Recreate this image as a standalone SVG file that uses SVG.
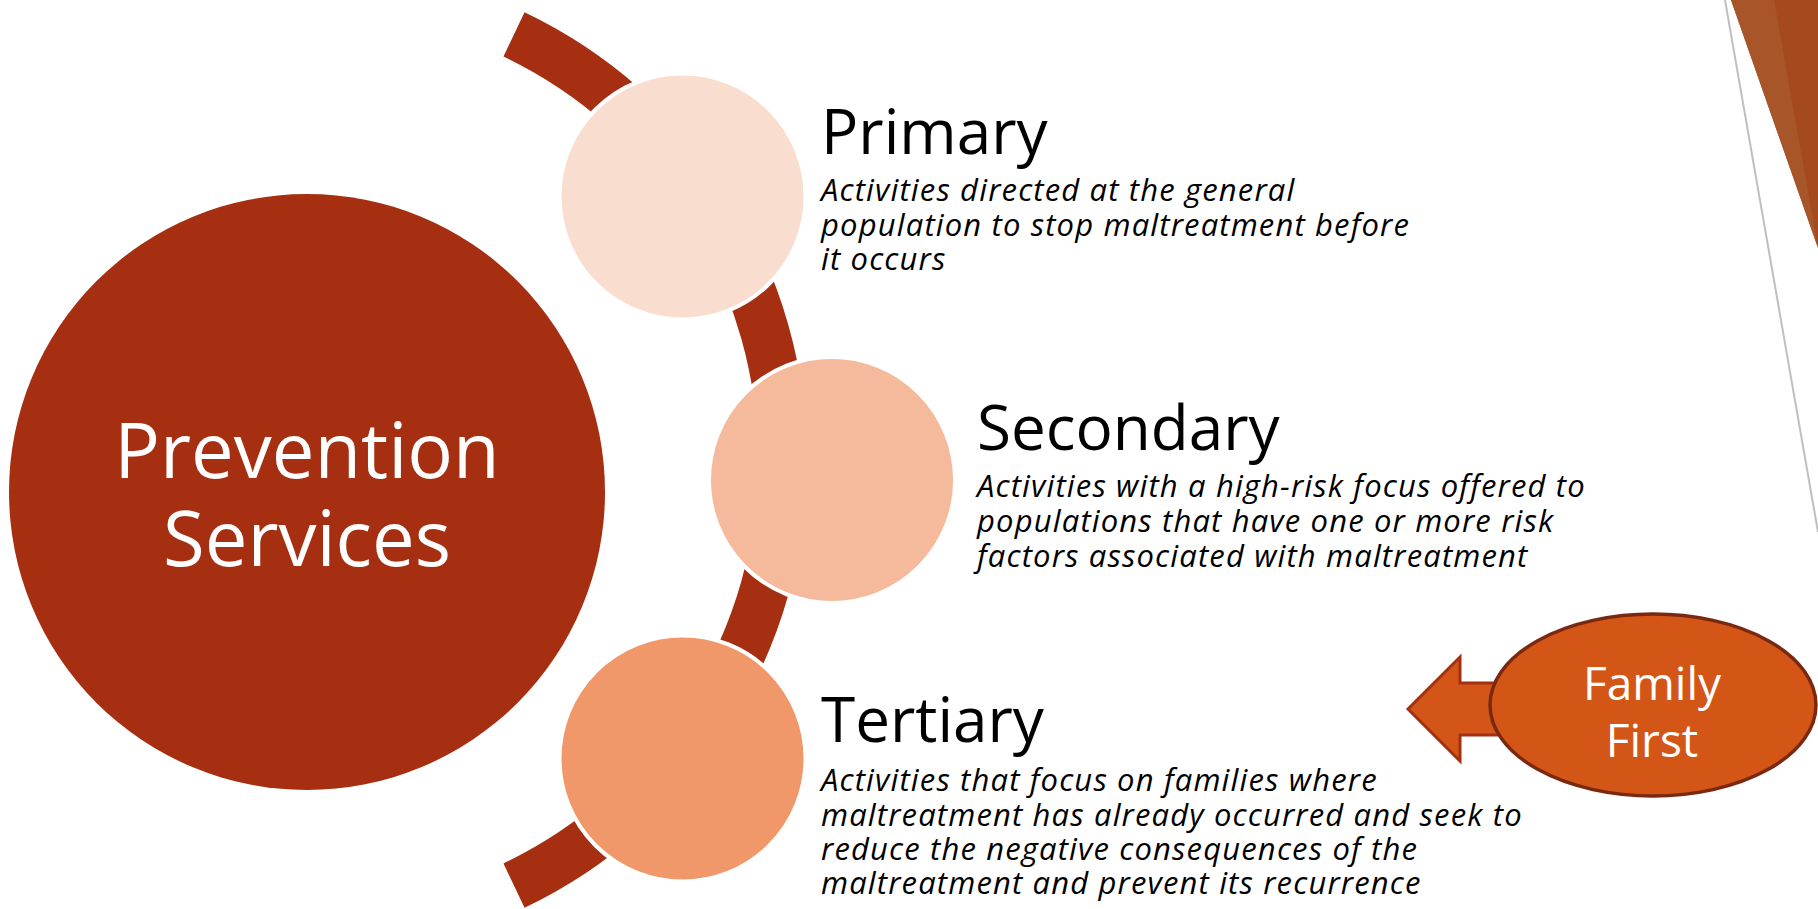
<svg xmlns="http://www.w3.org/2000/svg" width="1818" height="909" viewBox="0 0 1818 909">
<style>
.head{font-family:"Open Sans","Liberation Sans",sans-serif;font-size:62px;fill:#000}
.body{font-family:"Open Sans","Liberation Sans",sans-serif;font-style:italic;font-size:31px;letter-spacing:1.15px;fill:#000}
.ring{stroke:#fff;stroke-width:4}
.white{font-family:"Open Sans","Liberation Sans",sans-serif;fill:#fff;text-anchor:middle}
</style>
<rect width="1818" height="909" fill="#fff"/>
<g id="decoration">
<polygon points="1731,0 1818,0 1818,248" fill="#A44A1E"/>
<polygon points="1731,0 1774,0 1818,248" fill="#A8552A"/>
<line x1="1725" y1="0" x2="1818" y2="532" stroke="#BFBFBF" stroke-width="2"/>
</g>
<g id="connectors">
<path d="M514,34.4 A471.5,471.5 0 0 1 514,885.6" fill="none" stroke="#A52F10" stroke-width="49"/>
</g>
<g id="prevention">
<circle cx="307" cy="492" r="298" fill="#A52F10"/>
<text class="white" x="307" y="478" font-size="76">Prevention</text>
<text class="white" x="307" y="566" font-size="76">Services</text>
</g>
<g id="primary">
<circle class="ring" cx="682.5" cy="196.5" r="123" fill="#F9DDCF"/>
<text class="head" x="821" y="154">Primary</text>
<text class="body" x="821" y="201">Activities directed at the general</text>
<text class="body" x="821" y="236">population to stop maltreatment before</text>
<text class="body" x="821" y="270">it occurs</text>
</g>
<g id="secondary">
<circle class="ring" cx="832" cy="480" r="123" fill="#F5BA9C"/>
<text class="head" x="977" y="450">Secondary</text>
<text class="body" x="977" y="497">Activities with a high-risk focus offered to</text>
<text class="body" x="977" y="532">populations that have one or more risk</text>
<text class="body" x="977" y="567">factors associated with maltreatment</text>
</g>
<g id="tertiary">
<circle class="ring" cx="682.5" cy="758.5" r="123" fill="#F0986A"/>
<text class="head" x="821" y="742">Tertiary</text>
<text class="body" x="821" y="791">Activities that focus on families where</text>
<text class="body" x="821" y="826">maltreatment has already occurred and seek to</text>
<text class="body" x="821" y="860">reduce the negative consequences of the</text>
<text class="body" x="821" y="894">maltreatment and prevent its recurrence</text>
</g>
<g id="family-first">
<path d="M1408,709 L1460,657 L1460,683 L1560,683 L1560,735 L1460,735 L1460,761 Z" fill="#D35618" stroke="#A3300F" stroke-width="3" stroke-linejoin="miter"/>
<ellipse cx="1653" cy="705" rx="163" ry="91" fill="#D45616" stroke="#7A2810" stroke-width="3.5"/>
<text class="white" x="1652" y="700" font-size="46">Family</text>
<text class="white" x="1652" y="757" font-size="46">First</text>
</g>
</svg>
